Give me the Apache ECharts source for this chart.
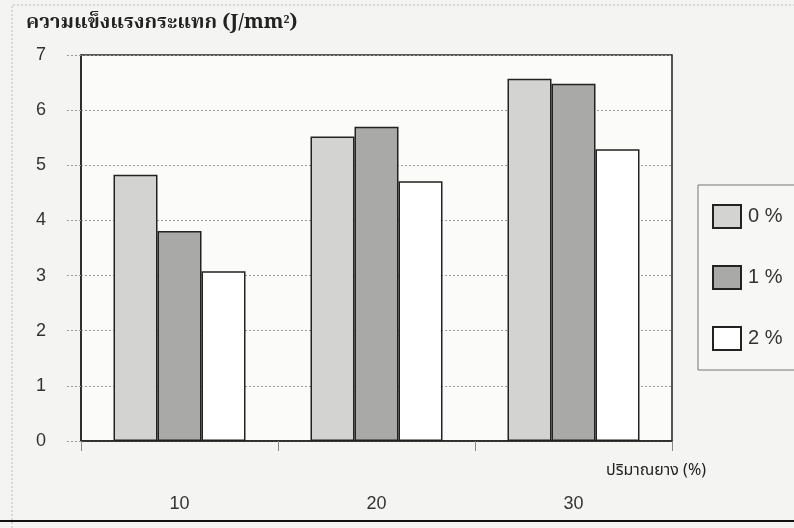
<!DOCTYPE html>
<html>
<head>
<meta charset="utf-8">
<script src="https://cdn.jsdelivr.net/npm/echarts@6/dist/echarts.min.js"></script>
<style>
  html, body { margin: 0; padding: 0; background: #f4f4f2; }
  #chart { width: 794px; height: 528px; }
</style>
</head>
<body>
<div id="chart"></div>
<script>
// Rubber content (%) on the category axis
const categories = ['10', '20', '30'];
// Impact strength (J/mm²) for each additive level
const seriesNames = ['0 %', '1 %', '2 %'];
const values0 = [4.83, 5.52, 6.57];
const values1 = [3.81, 5.70, 6.48];
const values2 = [3.08, 4.71, 5.29];
const yTicks = [0, 1, 2, 3, 4, 5, 6, 7];

const fills = ['#d3d3d1', '#a9a9a7', '#ffffff'];
const seriesData = [values0, values1, values2];

const chart = echarts.init(document.getElementById('chart'));

chart.setOption({
  backgroundColor: '#f4f4f2',
  animation: false,
  title: [
    {
      text: 'ความแข็งแรงกระแทก (J/mm²)',
      left: 21,
      top: 10,
      textStyle: {
        fontFamily: '"Noto Serif Thai", "Noto Sans Thai", "Liberation Serif", serif',
        fontSize: 20,
        fontWeight: 'bold',
        color: '#222'
      }
    },
    {
      text: 'ปริมาณยาง (%)',
      left: 601,
      top: 459,
      textStyle: {
        fontFamily: '"Noto Sans Thai", "Noto Sans", sans-serif',
        fontSize: 16,
        fontWeight: 'normal',
        color: '#222'
      }
    }
  ],
  legend: {
    orient: 'vertical',
    left: 698,
    top: 185,
    padding: [19, 24, 19, 14],
    itemWidth: 28,
    itemHeight: 23,
    itemGap: 36,
    icon: 'rect',
    borderColor: '#777',
    borderWidth: 1,
    backgroundColor: '#f7f7f5',
    textStyle: {
      fontFamily: '"Liberation Sans", Arial, sans-serif',
      fontSize: 20,
      color: '#333',
      padding: [0, 0, 0, 2]
    },
    data: seriesNames
  },
  grid: {
    left: 81,
    right: 122,
    top: 55,
    bottom: 87,
    show: true,
    backgroundColor: '#fbfbfa',
    borderColor: '#222',
    borderWidth: 1.5
  },
  xAxis: {
    type: 'category',
    data: categories,
    axisLine: { lineStyle: { color: '#222', width: 1.5 } },
    axisTick: { show: true, length: 10, lineStyle: { color: '#888' } },
    axisLabel: {
      margin: 54,
      fontFamily: '"Liberation Sans", Arial, sans-serif',
      fontSize: 18,
      color: '#333'
    }
  },
  yAxis: {
    type: 'value',
    min: 0,
    max: 7,
    interval: 1,
    axisLine: { show: true, lineStyle: { color: '#222', width: 1.5 } },
    axisTick: { show: true, length: 15, lineStyle: { color: '#999', type: [2, 2] } },
    axisLabel: {
      margin: 35,
      fontFamily: '"Liberation Sans", Arial, sans-serif',
      fontSize: 18,
      color: '#333',
      formatter: v => (yTicks.indexOf(v) >= 0 ? String(v) : '')
    },
    splitLine: { show: true, lineStyle: { color: '#9a9a9a', type: [2, 2], width: 1 } }
  },
  series: seriesNames.map((name, i) => ({
    name: name,
    type: 'bar',
    data: seriesData[i],
    barGap: '0%',
    barCategoryGap: '33%',
    itemStyle: {
      color: fills[i],
      borderColor: '#222',
      borderWidth: 1.5
    }
  })),
  graphic: [
    {
      type: 'line',
      shape: { x1: 0, y1: 521, x2: 794, y2: 521 },
      style: { stroke: '#111', lineWidth: 2 }
    },
    {
      type: 'polyline',
      shape: { points: [[12, 528], [12, 5], [794, 5]] },
      style: { stroke: '#bbb', lineWidth: 1, lineDash: [2, 2], fill: null }
    }
  ]
});
</script>
</body>
</html>
